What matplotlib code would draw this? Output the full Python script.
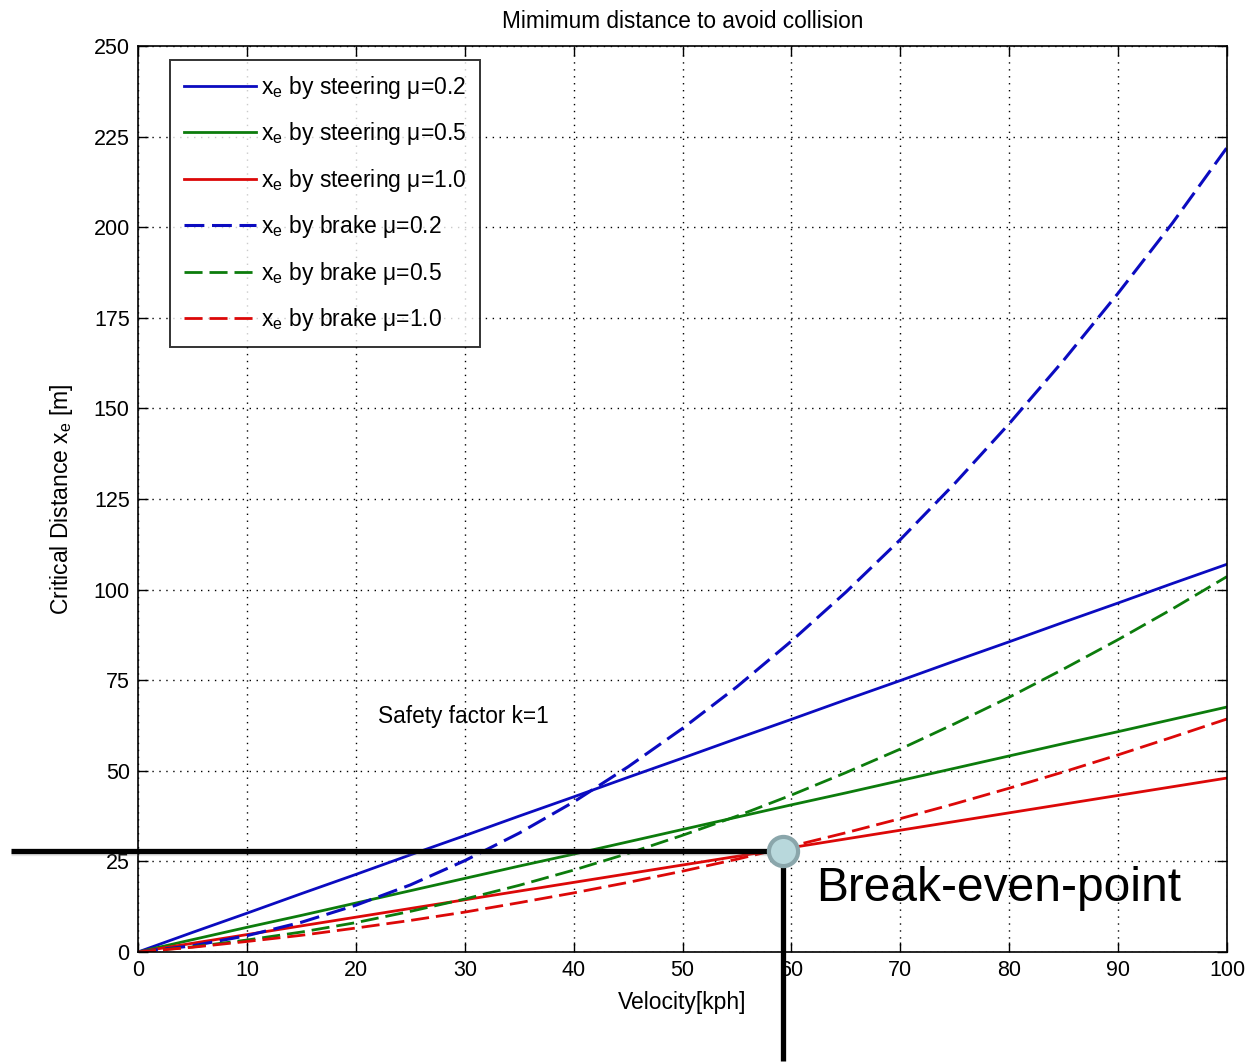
import matplotlib.pyplot as plt
import matplotlib.patheffects as pe
import numpy as np

plt.rcParams['font.family'] = ['Liberation Sans', 'DejaVu Sans']
plt.rcParams['mathtext.fontset'] = 'custom'
plt.rcParams['mathtext.rm'] = 'Liberation Sans'
plt.rcParams['mathtext.it'] = 'Liberation Sans:italic'

# velocity [kph]
velocity = [0, 5, 10, 15, 20, 25, 30, 35, 40, 45, 50,
            55, 60, 65, 70, 75, 80, 85, 90, 95, 100]

# critical distance by steering [m]
steer_mu02 = [0, 5.4, 10.7, 16.1, 21.4, 26.8, 32.1, 37.5, 42.8, 48.2, 53.5,
              58.9, 64.2, 69.6, 74.9, 80.3, 85.6, 91.0, 96.3, 101.7, 107.0]
steer_mu05 = [0, 3.4, 6.8, 10.1, 13.5, 16.9, 20.3, 23.7, 27.0, 30.4, 33.8,
              37.2, 40.6, 43.9, 47.3, 50.7, 54.1, 57.5, 60.8, 64.2, 67.6]
steer_mu10 = [0, 2.4, 4.8, 7.2, 9.6, 12.0, 14.4, 16.8, 19.2, 21.6, 24.0,
              26.4, 28.8, 31.2, 33.6, 36.0, 38.4, 40.8, 43.2, 45.6, 48.0]

# critical distance by braking [m]
brake_mu02 = [0, 1.7, 4.5, 8.2, 12.9, 18.5, 25.2, 32.8, 41.4, 51.1, 61.7,
              73.2, 85.8, 99.3, 113.8, 129.3, 145.8, 163.3, 181.8, 201.2, 222.0]
brake_mu05 = [0, 1.4, 3.3, 5.5, 8.1, 11.2, 14.6, 18.4, 22.6, 27.2, 32.2,
              37.5, 43.3, 49.5, 56.0, 63.0, 70.3, 78.1, 86.2, 94.7, 103.6]
brake_mu10 = [0, 1.3, 2.9, 4.6, 6.6, 8.7, 11.0, 13.6, 16.3, 19.2, 22.3,
              25.6, 29.2, 32.9, 36.8, 40.9, 45.2, 49.7, 54.4, 59.3, 64.3]

labels = [r'x$_\mathrm{e}$ by steering μ=0.2',
          r'x$_\mathrm{e}$ by steering μ=0.5',
          r'x$_\mathrm{e}$ by steering μ=1.0',
          r'x$_\mathrm{e}$ by brake μ=0.2',
          r'x$_\mathrm{e}$ by brake μ=0.5',
          r'x$_\mathrm{e}$ by brake μ=1.0']

# where steering and braking distances meet for mu=1.0
break_even_v = 59.2
break_even_x = 28.0

blue, green, red = '#0b0bc0', '#0c7c0c', '#dc0808'

fig = plt.figure(figsize=(12.46, 10.62), dpi=100)
ax = fig.add_axes([0.1108, 0.1036, 0.874, 0.8531])

ax.plot(velocity, steer_mu02, color=blue, lw=2, label=labels[0])
ax.plot(velocity, steer_mu05, color=green, lw=2, label=labels[1])
ax.plot(velocity, steer_mu10, color=red, lw=2, label=labels[2])
ax.plot(velocity, brake_mu02, color=blue, lw=2.2, dashes=(6.5, 2.5), label=labels[3])
ax.plot(velocity, brake_mu05, color=green, lw=2, dashes=(6.5, 2.5), label=labels[4])
ax.plot(velocity, brake_mu10, color=red, lw=2, dashes=(6.5, 2.5), label=labels[5])

ax.set_xlim(0, 100)
ax.set_ylim(0, 250)
ax.set_xticks(np.arange(0, 101, 10))
ax.set_yticks(np.arange(0, 251, 25))
ax.tick_params(direction='in', top=True, right=True, length=7, width=1,
               labelsize=15.5, pad=6)
for s in ax.spines.values():
    s.set_linewidth(1.2)
ax.grid(True, color='black', linestyle=(0, (1, 4)), linewidth=1)

ax.set_title('Mimimum distance to avoid collision', fontsize=16.3, pad=13)
ax.set_xlabel('Velocity[kph]', fontsize=16.5, labelpad=7)
ax.set_ylabel(r'Critical Distance x$_\mathrm{e}$ [m]', fontsize=16.5, labelpad=13)

ax.text(22, 65, 'Safety factor k=1', fontsize=16.3, ha='left', va='center')

leg = ax.legend(loc='upper left', bbox_to_anchor=(0.0294, 0.9845),
                borderaxespad=0, fancybox=False, edgecolor='black',
                fontsize=16.5, handlelength=3.15, handletextpad=0.2,
                labelspacing=0.85, borderpad=0.6)
leg.get_frame().set_linewidth(1.4)

# break-even guide lines, drawn past the axes edges
shadow = [pe.SimpleLineShadow(offset=(0, -2), shadow_color='gray', alpha=0.2),
          pe.Normal()]
ax.plot([-11.7, break_even_v], [break_even_x, break_even_x], color='black',
        lw=3.8, clip_on=False, zorder=5, path_effects=shadow,
        solid_capstyle='butt')
ax.plot([break_even_v, break_even_v], [break_even_x, -30], color='black',
        lw=3.8, clip_on=False, zorder=5, solid_capstyle='butt')
ax.plot([break_even_v], [break_even_x], marker='o', ms=21,
        markerfacecolor='#b8d8dc', markeredgecolor='#8aa6ab', mew=3,
        clip_on=False, zorder=6)
ax.text(62.3, break_even_x - 10.5, 'Break-even-point', fontsize=34.5,
        ha='left', va='center', zorder=6)

fig.savefig('out.png', dpi=100)
